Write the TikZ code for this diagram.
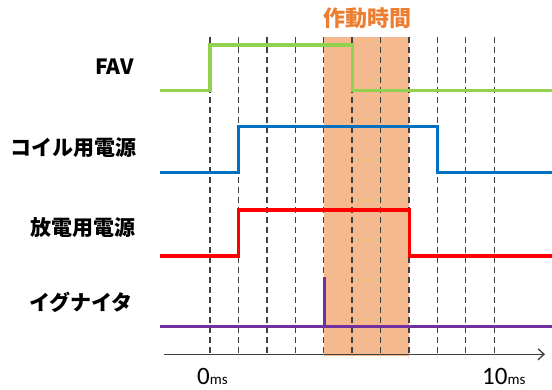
\documentclass[tikz,border=0pt]{standalone}
\usepackage{fontspec}
\setmainfont{Noto Sans CJK JP}
\newfontfamily\numfont{Carlito}
\usetikzlibrary{arrows.meta}
\definecolor{actfill}{RGB}{244,185,143}
\definecolor{acttext}{RGB}{237,125,49}
\definecolor{favc}{RGB}{146,208,80}
\definecolor{coilc}{RGB}{0,112,192}
\definecolor{disc}{RGB}{255,0,0}
\definecolor{ignc}{RGB}{112,48,160}
\definecolor{gridc}{RGB}{64,64,64}
\tikzset{
  siglabel/.style={anchor=east, inner sep=0pt, font=\fontsize{21}{24}\selectfont\bfseries},
  signal/.style={line width=3.2pt, line join=miter},
  gridline/.style={gridc, line width=1.4pt, dash pattern=on 6pt off 4pt},
  ticklabel/.style={inner sep=0pt, anchor=base west},
}
\begin{document}
\begin{tikzpicture}[x=1pt,y=-1pt]
\useasboundingbox (0,0) rectangle (552,390);
% operating time band
\fill[actfill] (324.2,36.7) rectangle (409.3,356);
\node[font=\fontsize{22}{24}\selectfont\bfseries, text=acttext, inner sep=0pt] (title) at (367,18.5) {作動時間};
% dashed grid lines
\foreach \k in {0,...,10}{
  \draw[gridline] ({210+28.42*\k},37) -- ({210+28.42*\k},357);
}
% axis
\coordinate (axs) at (164,354.3);
\coordinate (axe) at (545,354.3);
\draw[gridc, line width=1.3pt, -{Straight Barb[length=6pt,width=11pt,line width=1.3pt]}] (axs) -- (axe);
% tick labels
\node[ticklabel] (zero) at (197,384) {\numfont\fontsize{25}{27}\selectfont 0\fontsize{15}{16}\selectfont ms};
\node[ticklabel] (ten) at (482,384) {\numfont\fontsize{25}{27}\selectfont 10\fontsize{15}{16}\selectfont ms};
% labels
\node[siglabel] (lfav) at (134,67) {FAV};
\node[siglabel] (lcoil) at (137,148) {コイル用電源};
\node[siglabel] (ldis) at (136,228) {放電用電源};
\node[siglabel] (lign) at (133,302) {イグナイタ};
% signals
\draw[signal, favc] (160,90.7) -- (210,90.7) -- (210,45) -- (352.7,45) -- (352.7,90.7) -- (552,90.7);
\draw[signal, coilc] (160,172.7) -- (238.4,172.7) -- (238.4,126.7) -- (437.7,126.7) -- (437.7,172.7) -- (552,172.7);
\draw[signal, disc] (160,256) -- (238.4,256) -- (238.4,210) -- (409.3,210) -- (409.3,256) -- (552,256);
\draw[signal, ignc] (160,326.7) -- (552,326.7);
\draw[signal, ignc, line cap=butt] (324.2,326.7) -- (324.2,276.7);
\end{tikzpicture}
\end{document}
